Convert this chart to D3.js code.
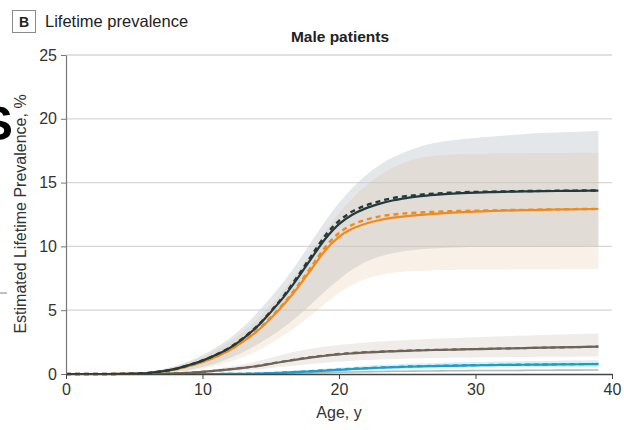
<!DOCTYPE html>
<html>
<head>
<meta charset="utf-8">
<script src="https://cdn.jsdelivr.net/npm/d3@7"></script>
<style>
  body { margin: 0; background: #fff; }
  svg { font-family: 'Liberation Sans', Arial, sans-serif; }
</style>
</head>
<body>
<svg id="canvas" width="624" height="430"></svg>
<script>
// ages on the x axis (years)
let ages = [0,1,2,3,4,5,6,7,8,9,10,11,12,13,14,15,16,17,18,19,20,21,22,23,24,25,26,27,28,29,30,31,32,33,34,35,36,37,38,39];

// dark series: estimate, dashed alternative, and interval
let darkEst = [0,0,0,0,0.01,0.03,0.08,0.2,0.4,0.7, 1.05,1.5,2.05,2.8,3.7,4.85,6.1,7.55,9.1,10.6, 11.75,12.5,13.0,13.35,13.62,13.8,13.94,14.04,14.12,14.18, 14.22,14.25,14.28,14.3,14.32,14.33,14.34,14.35,14.36,14.37];
let darkAlt = [0,0,0,0,0.01,0.03,0.08,0.2,0.4,0.7, 1.06,1.52,2.08,2.84,3.75,4.92,6.2,7.7,9.3,10.85, 12.0,12.75,13.22,13.55,13.8,13.95,14.06,14.14,14.2,14.24, 14.27,14.29,14.31,14.33,14.34,14.35,14.36,14.37,14.38,14.38];
let darkHi = [0,0,0,0,0.02,0.06,0.15,0.35,0.62,1.0, 1.48,2.08,2.8,3.7,4.8,6.0,7.3,8.8,10.4,12.0, 13.4,14.6,15.6,16.4,17.0,17.45,17.85,18.1,18.28,18.4, 18.5,18.6,18.68,18.75,18.82,18.88,18.93,18.97,19.0,19.05];
let darkLo = [0,0,0,0,0,0.01,0.03,0.08,0.17,0.32, 0.55,0.85,1.25,1.72,2.3,2.95,3.7,4.55,5.5,6.5, 7.4,8.2,8.8,9.2,9.48,9.65,9.77,9.85,9.9,9.94, 9.97,9.98,9.99,10.0,10.0,10.01,10.01,10.02,10.02,10.03];

// orange series
let orangeEst = [0,0,0,0,0.01,0.03,0.07,0.18,0.36,0.63, 0.95,1.35,1.87,2.55,3.35,4.35,5.5,6.8,8.25,9.7, 10.75,11.4,11.8,12.07,12.25,12.38,12.47,12.55,12.62,12.68, 12.72,12.76,12.8,12.83,12.85,12.87,12.89,12.9,12.92,12.93];
let orangeAlt = [0,0,0,0,0.01,0.03,0.07,0.18,0.36,0.63, 0.96,1.37,1.9,2.6,3.42,4.45,5.6,6.95,8.45,9.95, 11.05,11.7,12.1,12.35,12.5,12.6,12.66,12.71,12.75,12.78, 12.8,12.82,12.84,12.86,12.87,12.89,12.9,12.92,12.93,12.94];
let orangeHi = [0,0,0,0,0.02,0.05,0.13,0.3,0.56,0.9, 1.35,1.9,2.55,3.35,4.3,5.4,6.65,8.05,9.6,11.2, 12.6,13.8,14.8,15.6,16.2,16.65,16.95,17.1,17.19,17.24, 17.26,17.28,17.3,17.3,17.31,17.31,17.32,17.32,17.33,17.33];
let orangeLo = [0,0,0,0,0,0.01,0.02,0.06,0.13,0.25, 0.43,0.66,0.96,1.33,1.8,2.4,3.05,3.8,4.65,5.5, 6.35,7.0,7.45,7.75,7.93,8.04,8.1,8.13,8.15,8.17, 8.18,8.19,8.19,8.2,8.2,8.21,8.21,8.22,8.22,8.22];

// brown series
let brownEst = [0,0,0,0,0,0,0.01,0.02,0.05,0.1, 0.17,0.26,0.36,0.48,0.62,0.8,0.98,1.15,1.3,1.43, 1.54,1.62,1.69,1.74,1.78,1.82,1.85,1.88,1.9,1.93, 1.95,1.97,2.0,2.02,2.04,2.06,2.08,2.1,2.12,2.15];
let brownAlt = [0,0,0,0,0,0,0.01,0.02,0.05,0.1, 0.17,0.26,0.37,0.49,0.63,0.82,1.0,1.17,1.33,1.46, 1.57,1.65,1.71,1.76,1.8,1.84,1.87,1.89,1.91,1.94, 1.96,1.98,2.0,2.02,2.04,2.06,2.08,2.1,2.12,2.15];
let brownHi = [0,0,0,0,0,0.01,0.02,0.04,0.08,0.15, 0.26,0.4,0.56,0.76,1.0,1.28,1.55,1.8,2.0,2.16, 2.28,2.38,2.47,2.54,2.6,2.66,2.71,2.76,2.8,2.84, 2.88,2.92,2.95,2.99,3.02,3.05,3.09,3.12,3.15,3.18];
let brownLo = [0,0,0,0,0,0,0,0.01,0.02,0.04, 0.08,0.13,0.19,0.27,0.36,0.47,0.58,0.69,0.8,0.89, 0.97,1.04,1.1,1.14,1.18,1.21,1.23,1.25,1.27,1.29, 1.3,1.31,1.32,1.33,1.34,1.35,1.36,1.36,1.37,1.38];

// blue series
let blueEst = [0,0,0,0,0,0,0,0,0,0, 0,0,0.01,0.02,0.04,0.07,0.11,0.16,0.21,0.27, 0.33,0.39,0.44,0.49,0.53,0.57,0.6,0.62,0.64,0.66, 0.68,0.7,0.71,0.72,0.73,0.74,0.75,0.76,0.77,0.78];
let blueAlt = [0,0,0,0,0,0,0,0,0,0, 0,0,0.01,0.02,0.04,0.07,0.12,0.17,0.23,0.29, 0.35,0.41,0.46,0.51,0.55,0.59,0.62,0.64,0.66,0.68, 0.7,0.71,0.72,0.73,0.74,0.75,0.76,0.77,0.78,0.79];
let blueHi = [0,0,0,0,0,0,0,0,0,0, 0,0.01,0.02,0.04,0.08,0.13,0.19,0.26,0.33,0.41, 0.49,0.57,0.64,0.7,0.75,0.8,0.84,0.87,0.9,0.92, 0.94,0.96,0.98,0.99,1.01,1.02,1.04,1.05,1.06,1.07];
let blueLo = [0,0,0,0,0,0,0,0,0,0, 0,0,0,0,0.01,0.03,0.05,0.08,0.11,0.15, 0.19,0.24,0.28,0.32,0.36,0.39,0.42,0.44,0.46,0.48, 0.49,0.5,0.51,0.52,0.52,0.53,0.53,0.54,0.54,0.55];

// light gray series (no visible band)
let greyEst = [0,0,0,0,0,0,0,0,0,0, 0,0,0,0,0.01,0.02,0.04,0.06,0.09,0.11, 0.14,0.16,0.18,0.2,0.21,0.22,0.23,0.24,0.25,0.26, 0.27,0.27,0.28,0.28,0.29,0.29,0.3,0.3,0.31,0.31];

// axis ticks
let xTicks = [0, 10, 20, 30, 40];
let yTicks = [0, 5, 10, 15, 20, 25];

let canvas = d3.select('#canvas');

// plot box
let plotLeft = 66, plotRight = 612, plotTop = 55, plotBottom = 374;

let xScale = d3.scaleLinear().domain([0, 40]).range([plotLeft, plotRight]);
let yScale = d3.scaleLinear().domain([0, 25]).range([plotBottom, plotTop]);

//horizontal gridlines
canvas.append('g')
  .selectAll('line')
  .data(yTicks.filter(t => t > 0))
  .enter()
  .append('line')
  .attr('x1', plotLeft)
  .attr('x2', plotRight)
  .attr('y1', d => yScale(d))
  .attr('y2', d => yScale(d))
  .attr('stroke', '#d6d6d6')
  .attr('stroke-width', 1.3);

//confidence bands
let bands = [
  {lo: darkLo, hi: darkHi, fill: 'rgb(200,208,214)', op: 0.5},
  {lo: orangeLo, hi: orangeHi, fill: 'rgb(225,180,135)', op: 0.2},
  {lo: brownLo, hi: brownHi, fill: 'rgb(190,180,170)', op: 0.25},
  {lo: blueLo, hi: blueHi, fill: 'rgb(100,200,235)', op: 0.28}
];

let area = d3.area()
  .x(d => xScale(d.age))
  .y0(d => yScale(d.lo))
  .y1(d => yScale(d.hi))
  .curve(d3.curveMonotoneX);

bands.forEach(b => {
  let rows = ages.map((a, i) => ({age: a, lo: b.lo[i], hi: b.hi[i]}));
  canvas.append('path')
    .datum(rows)
    .attr('d', area)
    .attr('fill', b.fill)
    .attr('fill-opacity', b.op);
});

//estimate lines, solid first then dashed on top
let lines = [
  {v: greyEst, color: '#b3b9bd', w: 1.6},
  {v: blueEst, color: '#1e9dc8', w: 2.2},
  {v: blueAlt, color: '#1e9dc8', w: 2.2, dash: '5,4'},
  {v: brownEst, color: '#6f6357', w: 2.2},
  {v: brownAlt, color: '#6f6357', w: 2.2, dash: '5,4'},
  {v: orangeEst, color: '#ef8b1c', w: 2.2},
  {v: orangeAlt, color: '#ef8b1c', w: 2.4, dash: '5,4'},
  {v: darkEst, color: '#223a3e', w: 2.2},
  {v: darkAlt, color: '#223a3e', w: 2.4, dash: '5,4'}
];

let line = d3.line()
  .x(d => xScale(d.age))
  .y(d => yScale(d.val))
  .curve(d3.curveMonotoneX);

lines.forEach(s => {
  let rows = ages.map((a, i) => ({age: a, val: s.v[i]}));
  canvas.append('path')
    .datum(rows)
    .attr('d', line)
    .attr('fill', 'none')
    .attr('stroke', s.color)
    .attr('stroke-width', s.w)
    .attr('stroke-dasharray', s.dash || null);
});

//axes
let yAxis = canvas.append('g')
  .attr('transform', 'translate(' + plotLeft + ',0)')
  .call(d3.axisLeft(yScale).tickValues(yTicks).tickSize(5).tickSizeOuter(0).tickPadding(4));
yAxis.select('.domain').attr('stroke', '#777').attr('stroke-width', 1.2);
yAxis.selectAll('.tick line').attr('stroke', '#777');

let xAxis = canvas.append('g')
  .attr('transform', 'translate(0,' + plotBottom + ')')
  .call(d3.axisBottom(xScale).tickValues(xTicks).tickSize(5).tickSizeOuter(0).tickPadding(5));
xAxis.select('.domain').attr('stroke', '#444').attr('stroke-width', 1.6);
xAxis.selectAll('.tick line').attr('stroke', '#444');

canvas.selectAll('.tick text')
  .attr('font-family', "'Liberation Sans', Arial, sans-serif")
  .attr('font-size', 16)
  .attr('fill', '#333');

//labels
canvas.append('text')
  .attr('x', (plotLeft + plotRight) / 2)
  .attr('y', 418)
  .attr('text-anchor', 'middle')
  .attr('font-size', 16)
  .attr('fill', '#333')
  .text('Age, y');

canvas.append('text')
  .attr('transform', 'translate(26,' + 214 + ') rotate(-90)')
  .attr('text-anchor', 'middle')
  .attr('font-size', 16)
  .attr('fill', '#333')
  .text('Estimated Lifetime Prevalence, %');

canvas.append('text')
  .attr('x', 340)
  .attr('y', 42)
  .attr('text-anchor', 'middle')
  .attr('font-size', 15.5)
  .attr('font-weight', 'bold')
  .attr('fill', '#222')
  .text('Male patients');

//panel letter box and panel title
canvas.append('rect')
  .attr('x', 12.5).attr('y', 10.5)
  .attr('width', 23).attr('height', 22)
  .attr('fill', '#fff')
  .attr('stroke', '#8a8a8a');

canvas.append('text')
  .attr('x', 24).attr('y', 27)
  .attr('text-anchor', 'middle')
  .attr('font-size', 14)
  .attr('font-weight', 'bold')
  .attr('fill', '#222')
  .text('B');

canvas.append('text')
  .attr('x', 45).attr('y', 27)
  .attr('font-size', 16.5)
  .attr('fill', '#222')
  .text('Lifetime prevalence');

//cropped remains from a neighbouring panel at the left edge
canvas.append('text')
  .attr('x', 13).attr('y', 140)
  .attr('text-anchor', 'end')
  .attr('font-size', 49)
  .attr('font-weight', 'bold')
  .attr('fill', '#000')
  .text('S');

canvas.append('line')
  .attr('x1', 0).attr('x2', 7)
  .attr('y1', 293).attr('y2', 293)
  .attr('stroke', '#999')
  .attr('stroke-width', 1.2);
</script>
</body>
</html>
